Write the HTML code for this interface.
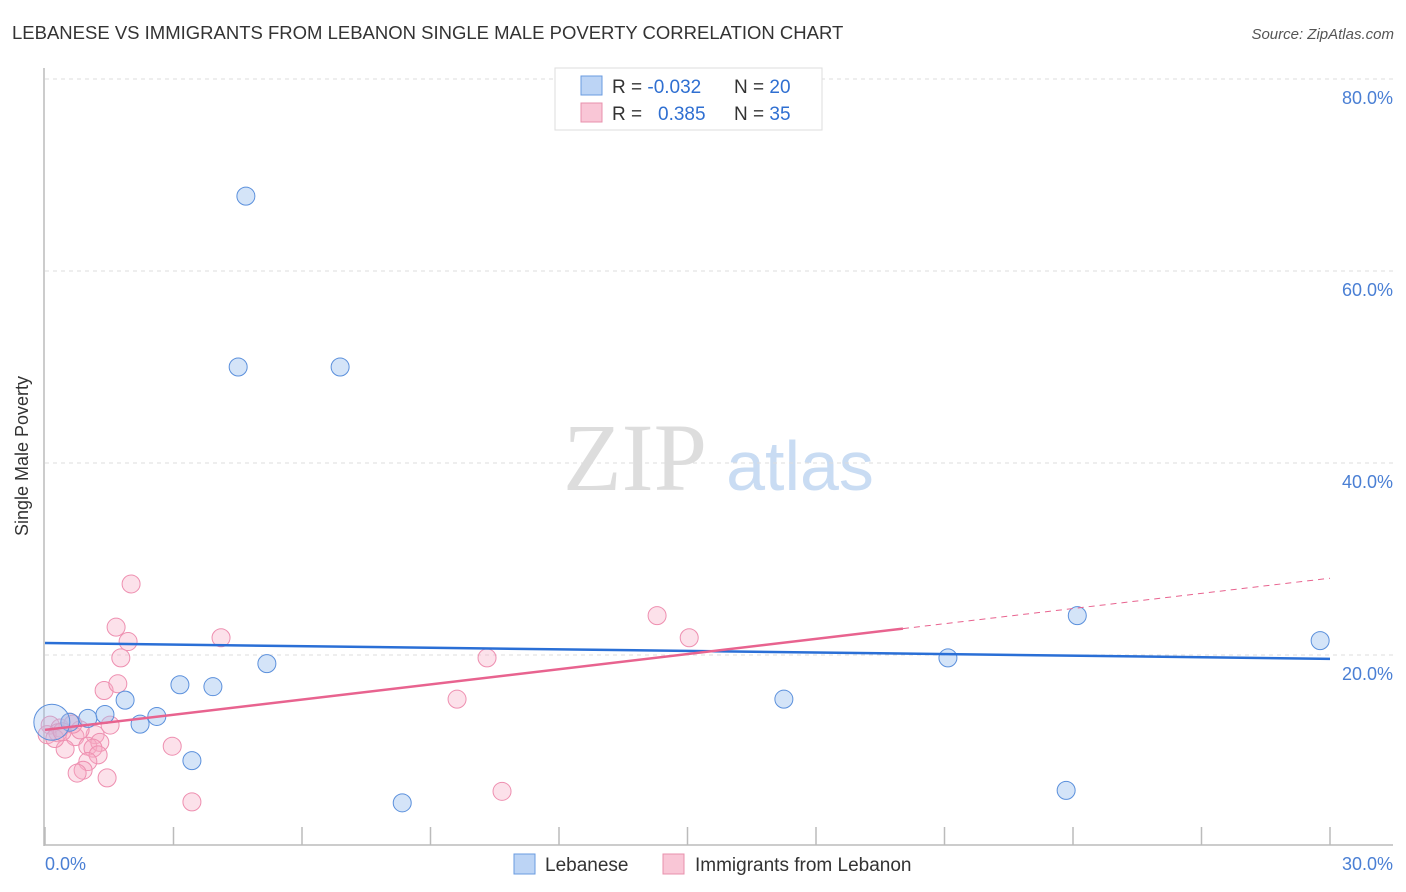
<!DOCTYPE html>
<html><head><meta charset="utf-8"><style>
body{margin:0;background:#fff;font-family:"Liberation Sans",sans-serif;}
svg{display:block}
</style></head><body>
<svg width="1406" height="892">
<text x="12" y="39" font-size="18.5" fill="#333">LEBANESE VS IMMIGRANTS FROM LEBANON SINGLE MALE POVERTY CORRELATION CHART</text>
<text x="1394" y="39" font-size="15" fill="#555" font-style="italic" text-anchor="end">Source: ZipAtlas.com</text>
<text x="635" y="490" font-size="96" fill="#ddd" font-family="Liberation Serif" text-anchor="middle">ZIP</text>
<text x="800" y="490" font-size="70" fill="#c9dcf3" text-anchor="middle">atlas</text>
<g id="grid"></g>
<line x1="44" y1="68" x2="44" y2="846" stroke="#bbb" stroke-width="1.5"/>
<line x1="44" y1="845" x2="1393" y2="845" stroke="#bbb" stroke-width="1.5"/>
<g id="xticks"></g>
<text x="28" y="456" font-size="18" fill="#333" text-anchor="middle" transform="rotate(-90 28 456)">Single Male Poverty</text>
<text x="45" y="870" font-size="18" fill="#4a7fd4">0.0%</text>
<text x="1393" y="870" font-size="18" fill="#4a7fd4" text-anchor="end">30.0%</text>
<g id="pts"></g>
<g id="lines"></g>
<g>
<rect x="555" y="68" width="267" height="62" fill="#fff" stroke="#ddd"/>
<rect x="581" y="76" width="21" height="19" fill="#bcd4f5" stroke="#6a9be0"/>
<rect x="581" y="103" width="21" height="19" fill="#f9c6d6" stroke="#e890ac"/>
<text x="612" y="93" font-size="19" fill="#333">R = <tspan fill="#2f6fd1">-0.032</tspan></text>
<text x="734" y="93" font-size="19" fill="#333">N = <tspan fill="#2f6fd1">20</tspan></text>
<text x="612" y="120" font-size="19" fill="#333">R = <tspan x="658" fill="#2f6fd1">0.385</tspan></text>
<text x="734" y="120" font-size="19" fill="#333">N = <tspan fill="#2f6fd1">35</tspan></text>
</g>
<g>
<rect x="514" y="854" width="21" height="20" fill="#bcd4f5" stroke="#6a9be0"/>
<text x="545" y="871" font-size="19" fill="#333">Lebanese</text>
<rect x="663" y="854" width="21" height="20" fill="#f9c6d6" stroke="#e890ac"/>
<text x="695" y="871" font-size="19" fill="#333">Immigrants from Lebanon</text>
</g>
</svg>
<script>
const yTicks=[20,40,60,80];
const yTickLabels=["20.0%","40.0%","60.0%","80.0%"];
const xTicks=[0,3,6,9,12,15,18,21,24,27,30];
const blueX=[4.69,4.51,6.89,5.18,3.15,3.92,1.87,2.61,2.22,1.40,1.00,0.58,3.43,8.34,17.25,21.08,24.1,29.77,23.84,0.16];
const blueY=[67.8,50.0,50.0,19.1,16.9,16.7,15.3,13.6,12.8,13.8,13.4,13.0,9.0,4.6,15.4,19.7,24.1,21.5,5.9,13.0];
const pinkX=[2.01,1.66,1.94,4.11,1.77,14.29,15.04,10.32,1.38,1.70,9.62,1.52,0.12,0.35,0.58,0.70,1.17,1.00,1.28,1.12,1.24,1.00,0.47,2.97,0.89,0.75,1.45,3.43,10.67,0.30,0.05,0.82,0.23,0.65,0.40];
const pinkY=[27.4,22.9,21.4,21.8,19.7,24.1,21.8,19.7,16.3,17.0,15.4,12.7,12.7,12.4,13.0,11.5,11.7,10.5,10.9,10.3,9.6,8.9,10.2,10.5,8.0,7.7,7.2,4.7,5.8,11.9,11.7,12.2,11.3,12.8,12.0];
const blueTrend=[21.25,19.6];
const pinkTrend=[12.2,28.0];
const pinkSolidEnd=20.03;
const NS="http://www.w3.org/2000/svg";
const sx=v=>45+v*(1285/30);
const sy=v=>847-v*9.6;
function mk(tag,attrs,parent){const e=document.createElementNS(NS,tag);for(const k in attrs)e.setAttribute(k,attrs[k]);document.getElementById(parent).appendChild(e);return e;}
yTicks.forEach((t,i)=>{
 const l=mk('line',{x1:45,x2:1393,y1:sy(t),y2:sy(t),stroke:'#ddd','stroke-dasharray':'4,4'},'grid');
 
 
 const tx=mk('text',{x:1393,y:sy(t)+25,'font-size':18,fill:'#4a7fd4','text-anchor':'end'},'grid');
 tx.textContent=yTickLabels[i];
 
 
});
xTicks.forEach(t=>{
 const l=mk('line',{x1:sx(t),x2:sx(t),y1:827,y2:845,stroke:'#bbb','stroke-width':1.5},'xticks');
 
 
});
pinkX.forEach((x,i)=>{
 const c=mk('circle',{cx:sx(x),cy:sy(pinkY[i]),r:9,fill:'rgba(246,170,195,0.35)',stroke:'#ee8fb0','stroke-width':1},'pts');
 
 
});
blueX.forEach((x,i)=>{
 const big=i===blueX.length-1;
 const c=mk('circle',{cx:sx(x),cy:sy(blueY[i]),r:big?18:9,fill:big?'rgba(160,196,240,0.35)':'rgba(160,196,240,0.45)',stroke:'#5b90dc','stroke-width':1},'pts');
 
 
});
const pAt=x=>pinkTrend[0]+(pinkTrend[1]-pinkTrend[0])*x/30;
let l1=mk('line',{x1:sx(0),y1:sy(blueTrend[0]),x2:sx(30),y2:sy(blueTrend[1]),stroke:'#2a6fd6','stroke-width':2.5},'lines');


let l2=mk('line',{x1:sx(0),y1:sy(pAt(0)),x2:sx(pinkSolidEnd),y2:sy(pAt(pinkSolidEnd)),stroke:'#e8638f','stroke-width':2.5},'lines');


let l3=mk('line',{x1:sx(pinkSolidEnd),y1:sy(pAt(pinkSolidEnd)),x2:sx(30),y2:sy(pAt(30)),stroke:'#e8638f','stroke-width':1,'stroke-dasharray':'6,5'},'lines');


</script>
</body></html>
